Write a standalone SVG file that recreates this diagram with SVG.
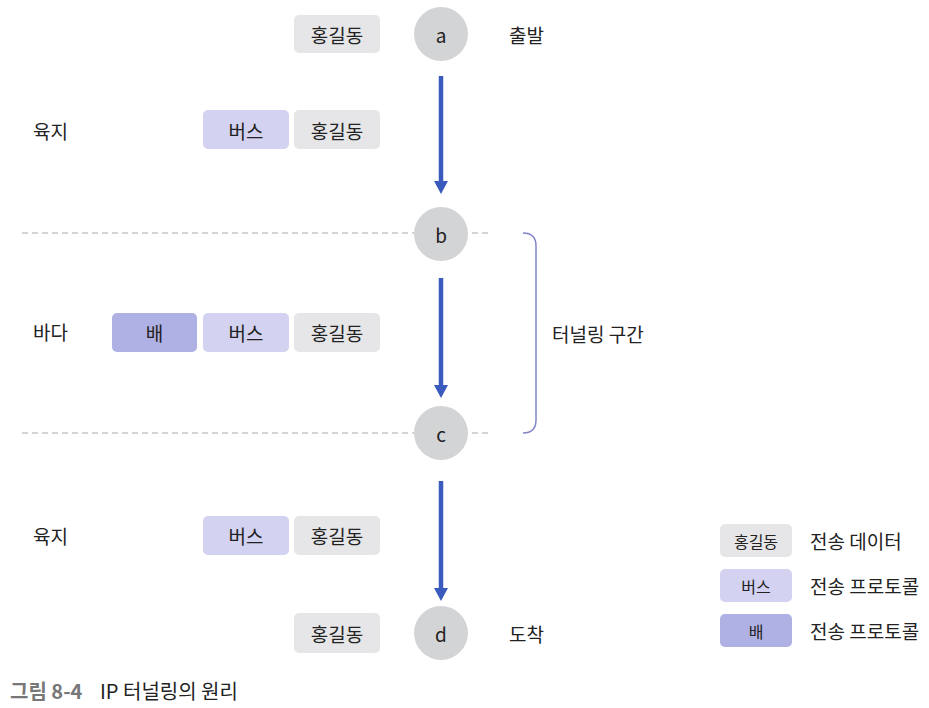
<svg xmlns="http://www.w3.org/2000/svg" width="929" height="708" viewBox="0 0 929 708">
<defs>
<style>
text{font-family:"Noto Sans CJK KR","Noto Sans",sans-serif;font-size:19px;fill:#222;dominant-baseline:central}
.c{text-anchor:middle}
.data{fill:#e6e6e8}
.bus{fill:#d3d2f0}
.ship{fill:#afb0e3}
.node{fill:#d3d4d6}
.dash{stroke:#aaa;stroke-width:1;stroke-dasharray:6 4;fill:none}
.shaft{stroke:#3a5bbd;stroke-width:4.5;fill:none}
.head{fill:#3a5bbd}
</style>
</defs>
<g id="dashes">
<line class="dash" x1="22" y1="233" x2="490" y2="233"/>
<line class="dash" x1="22" y1="433" x2="490" y2="433"/>
</g>
<g id="connectors">
<line class="shaft" x1="441" y1="76" x2="441" y2="182"/>
<path class="head" d="M434,181 L448,181 L441,194 Z"/>
<line class="shaft" x1="441" y1="278" x2="441" y2="386"/>
<path class="head" d="M434,385 L448,385 L441,398 Z"/>
<line class="shaft" x1="441" y1="481" x2="441" y2="589"/>
<path class="head" d="M434,588 L448,588 L441,601 Z"/>
</g>
<g id="node-a"><circle class="node" cx="441" cy="34" r="27"/><text class="c" x="441" y="34">a</text></g>
<g id="node-b"><circle class="node" cx="441" cy="234" r="27"/><text class="c" x="441" y="234">b</text></g>
<g id="node-c"><circle class="node" cx="441" cy="433" r="27"/><text class="c" x="441" y="433">c</text></g>
<g id="node-d"><circle class="node" cx="441" cy="633" r="27"/><text class="c" x="441" y="633">d</text></g>
<g id="label-start"><text x="509" y="34">출발</text></g>
<g id="label-end"><text x="509" y="633">도착</text></g>
<g id="row-a"><rect class="data" x="294" y="15" width="86" height="38" rx="5"/><text class="c" x="337" y="34">홍길동</text></g>
<g id="row-land1">
<text x="33" y="130">육지</text>
<rect class="bus" x="203" y="110" width="86" height="39" rx="5"/><text class="c" x="246" y="130">버스</text>
<rect class="data" x="294" y="110" width="86" height="39" rx="5"/><text class="c" x="337" y="130">홍길동</text>
</g>
<g id="row-sea">
<text x="33" y="331">바다</text>
<rect class="ship" x="112" y="313" width="85" height="39" rx="5"/><text class="c" x="154.5" y="332">배</text>
<rect class="bus" x="203" y="313" width="86" height="39" rx="5"/><text class="c" x="246" y="332">버스</text>
<rect class="data" x="294" y="313" width="86" height="39" rx="5"/><text class="c" x="337" y="332">홍길동</text>
</g>
<g id="row-land2">
<text x="33" y="535">육지</text>
<rect class="bus" x="203" y="516" width="86" height="39" rx="5"/><text class="c" x="246" y="535">버스</text>
<rect class="data" x="294" y="516" width="86" height="39" rx="5"/><text class="c" x="337" y="535">홍길동</text>
</g>
<g id="row-d"><rect class="data" x="294" y="613" width="86" height="40" rx="5"/><text class="c" x="337" y="633">홍길동</text></g>
<g id="tunnel">
<path d="M523,233 Q536,233 536,246 L536,420 Q536,433 523,433" fill="none" stroke="#8385c9" stroke-width="1.5"/>
<text x="552" y="333">터널링 구간</text>
</g>
<g id="legend">
<rect class="data" x="720" y="524" width="72" height="33" rx="5"/><text class="c" x="756" y="540.5" style="font-size:16px">홍길동</text><text x="810" y="540">전송 데이터</text>
<rect class="bus" x="720" y="569" width="72" height="33" rx="5"/><text class="c" x="756" y="585.5" style="font-size:16px">버스</text><text x="810" y="585">전송 프로토콜</text>
<rect class="ship" x="720" y="614" width="72" height="33" rx="5"/><text class="c" x="756" y="630.5" style="font-size:16px">배</text><text x="810" y="630">전송 프로토콜</text>
</g>
<g id="caption">
<text x="10" y="690" style="font-size:20px;font-weight:bold;fill:#777">그림 8-4</text>
<text x="100" y="690" style="font-size:20px">IP 터널링의 원리</text>
</g>
</svg>
